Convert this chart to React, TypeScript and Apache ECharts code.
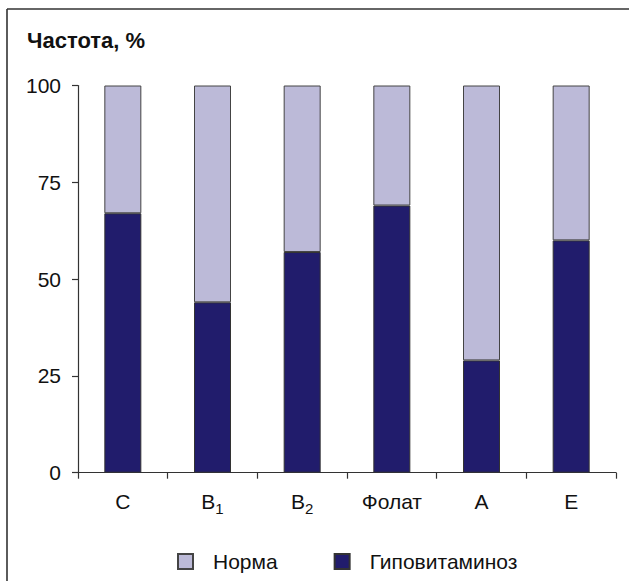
import React, { useEffect, useRef } from "react";
import * as echarts from "echarts";

const categories = ["C", "B_1", "B_2", "Фолат", "A", "E"];
const hypovitaminosis = [67, 44, 57, 69, 29, 60];
const norm = [33, 56, 43, 31, 71, 40];
const yTicks = { min: 0, max: 100, interval: 25 };
const titleText = "Частота, %";
const seriesNames = ["Норма", "Гиповитаминоз"];

const FONT = "'Liberation Sans', Arial, Helvetica, sans-serif";

export default function App() {
  const ref = useRef<HTMLDivElement>(null);
  useEffect(() => {
    if (!ref.current) return;
    const chart = echarts.init(ref.current, null, { renderer: "svg" });
    chart.setOption({
      animation: false,
      textStyle: { fontFamily: FONT },
      grid: { left: 78, right: 13, top: 85.5, bottom: 108.3 },
      graphic: [
        {
          type: "line",
          shape: { x1: 7, y1: 9, x2: 629, y2: 9 },
          style: { stroke: "#333", lineWidth: 1.6 },
        },
        {
          type: "line",
          shape: { x1: 7, y1: 9, x2: 7, y2: 581 },
          style: { stroke: "#333", lineWidth: 1.6 },
        },
        {
          type: "text",
          x: 27,
          y: 40,
          style: {
            text: titleText,
            fontFamily: FONT,
            fontSize: 22,
            fontWeight: "bold",
            fill: "#111",
            textVerticalAlign: "middle",
          },
        },
      ],
      legend: {
        data: seriesNames,
        left: 172,
        top: 546,
        itemWidth: 15,
        itemHeight: 15,
        itemGap: 56,
        icon: "rect",
        textStyle: {
          fontFamily: FONT,
          fontSize: 21,
          color: "#111",
          padding: [0, 0, 0, 15],
        },
      },
      xAxis: {
        type: "category",
        data: categories,
        boundaryGap: true,
        axisLine: { show: true, lineStyle: { color: "#333", width: 1.2 } },
        axisTick: { show: true, length: 6, inside: false, lineStyle: { color: "#333", width: 1.2 } },
        axisLabel: {
          margin: 15,
          interval: 0,
          formatter: (v: string) => {
            const parts = v.split("_");
            if (parts.length === 2) return `{b|${parts[0]}}{s|${parts[1]}}`;
            return `{b|${v}}`;
          },
          rich: {
            b: { fontFamily: FONT, fontSize: 21, lineHeight: 28, color: "#111" },
            s: {
              fontFamily: FONT,
              fontSize: 15,
              lineHeight: 15,
              padding: [13, 0, 0, 0],
              color: "#111",
            },
          },
        },
      },
      yAxis: {
        type: "value",
        min: yTicks.min,
        max: yTicks.max,
        interval: yTicks.interval,
        splitLine: { show: false },
        axisLine: { show: true, lineStyle: { color: "#333", width: 1.2 } },
        axisTick: { show: true, length: 6, inside: false, lineStyle: { color: "#333", width: 1.2 } },
        axisLabel: {
          margin: 17,
          fontFamily: FONT,
          fontSize: 21,
          color: "#111",
        },
      },
      series: [
        {
          name: "Гиповитаминоз",
          type: "bar",
          stack: "total",
          data: hypovitaminosis,
          barWidth: 37,
          itemStyle: { color: "#211C6C", borderColor: "#333", borderWidth: 1 },
        },
        {
          name: "Норма",
          type: "bar",
          stack: "total",
          data: norm,
          barWidth: 37,
          itemStyle: { color: "#BCBAD8", borderColor: "#444", borderWidth: 1 },
        },
      ],
    });
    return () => chart.dispose();
  }, []);
  return (
    <div
      ref={ref}
      style={{ position: "absolute", left: 0, top: 0, width: 629, height: 581, background: "#fff" }}
    />
  );
}
